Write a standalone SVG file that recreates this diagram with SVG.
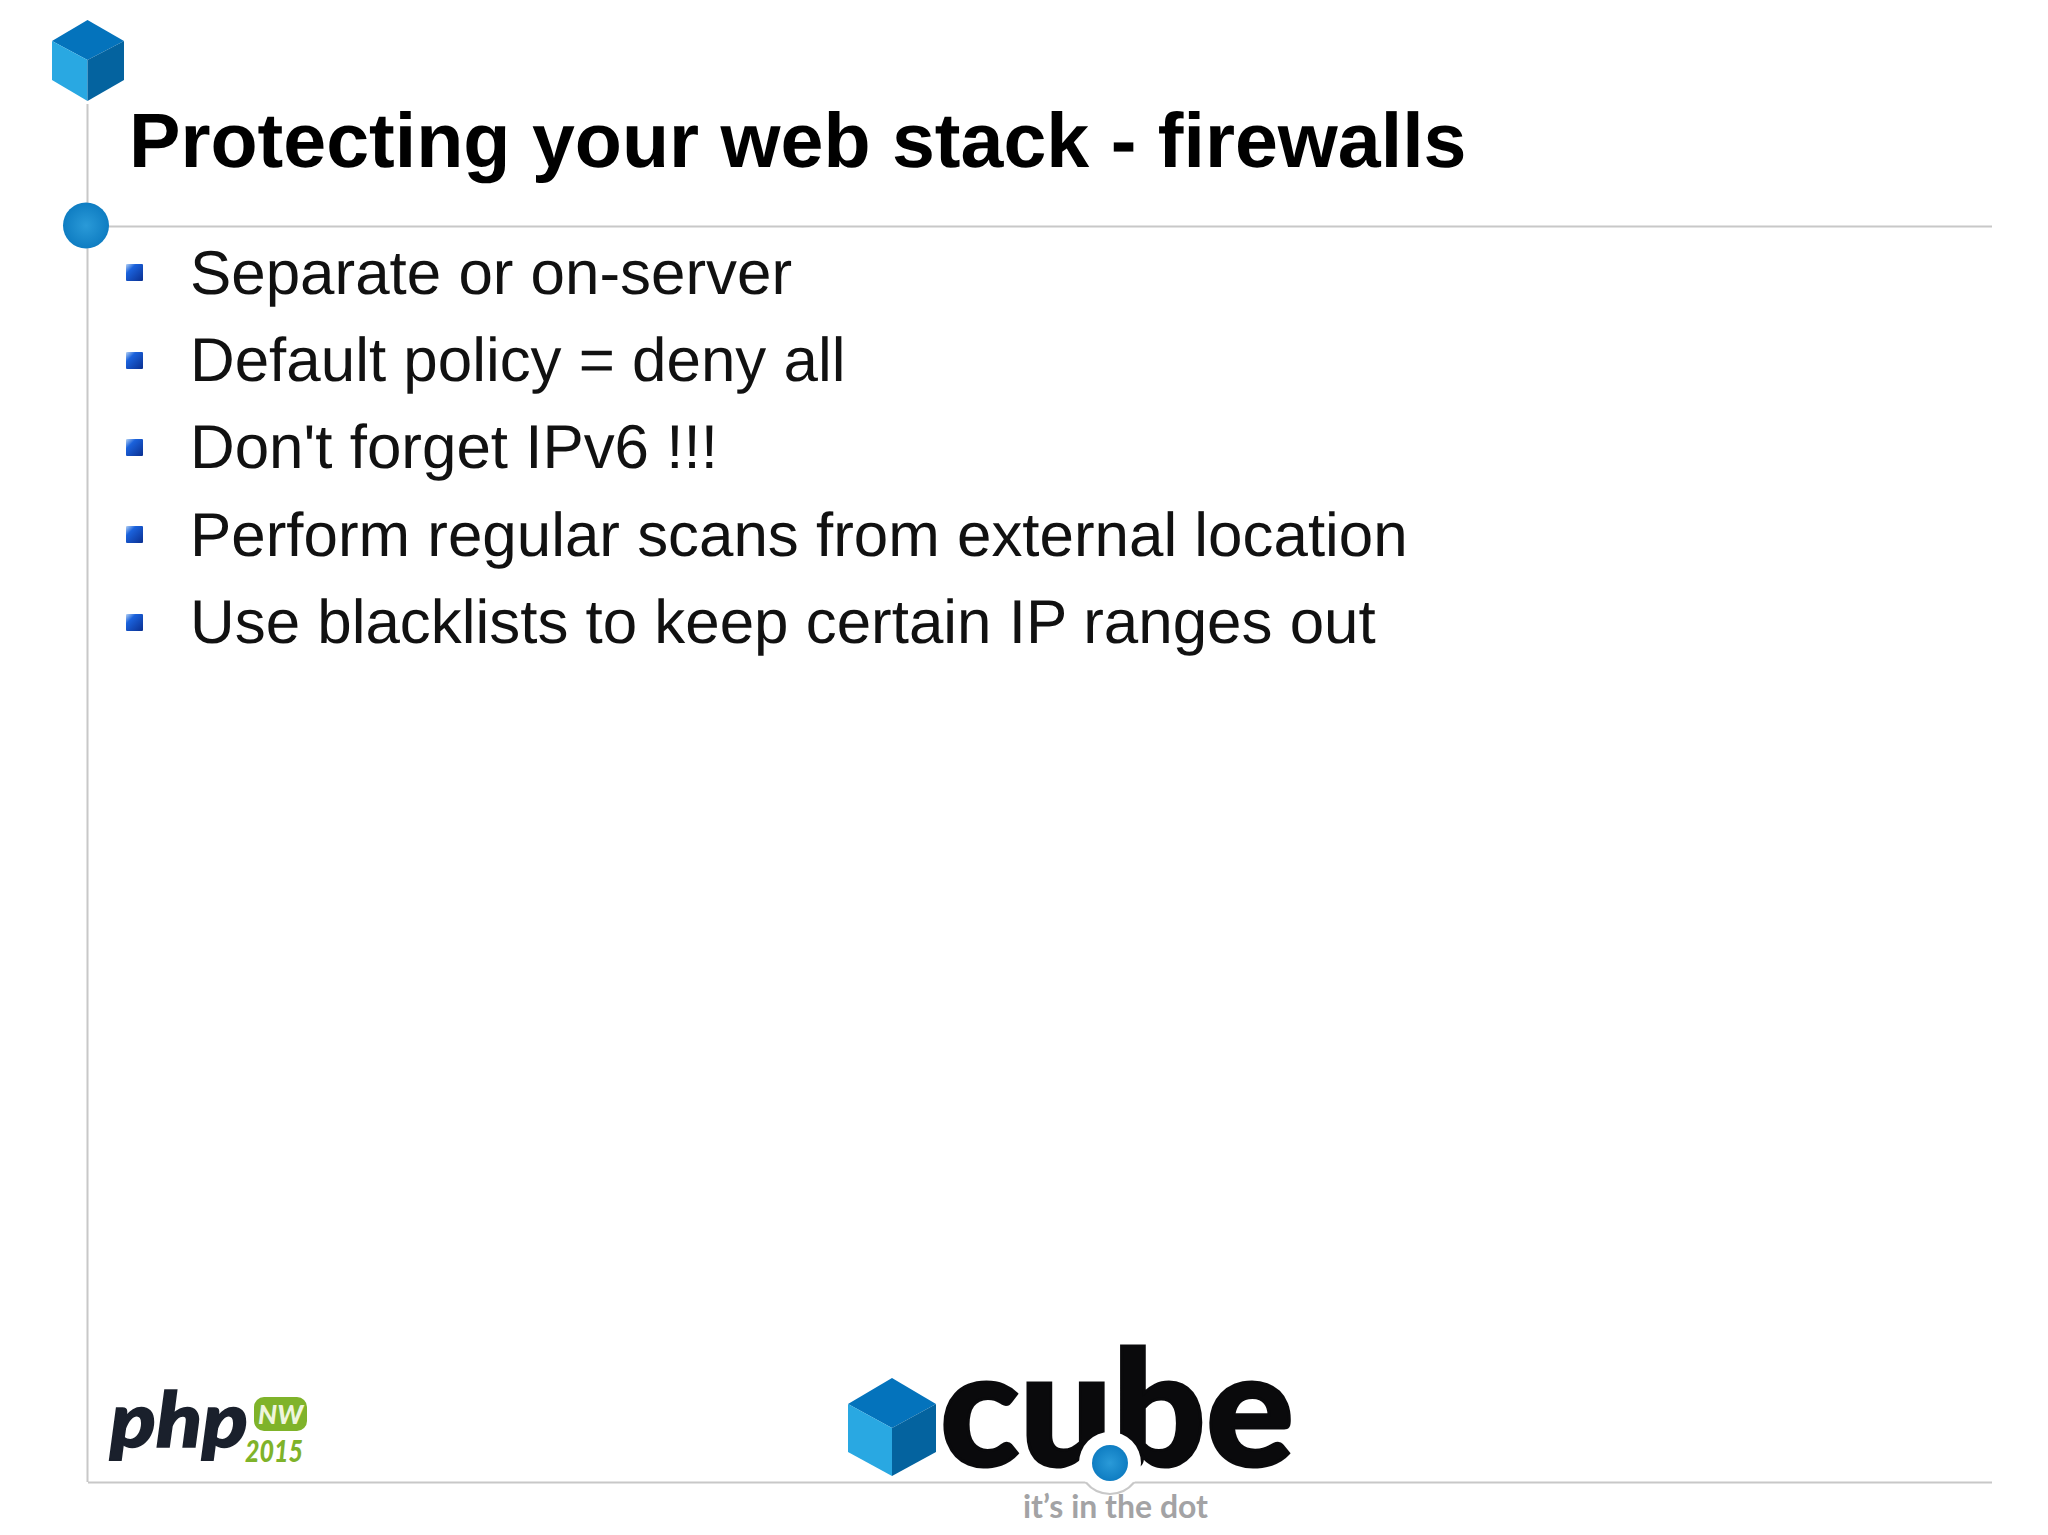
<svg xmlns="http://www.w3.org/2000/svg" width="2048" height="1535" viewBox="0 0 2048 1535">
<style>
.t{font-family:"Liberation Sans",Arial,sans-serif;text-rendering:geometricPrecision}
.b{font-size:61.900px;fill:#111}
.r{stroke:#c8c8c8;stroke-width:2;fill:none}
</style>
<defs>
<radialGradient id="dot"><stop offset="0" stop-color="#2a9ad8"/><stop offset="1" stop-color="#0f7dc2"/></radialGradient>
<linearGradient id="bul" x1="0" y1="0" x2="1" y2="1"><stop offset="0" stop-color="#b8d4f4"/><stop offset=".3" stop-color="#1b62dc"/><stop offset="1" stop-color="#0a2f90"/></linearGradient>
<g id="bu"><rect x="0" y="0" width="17" height="17" rx="1" fill="url(#bul)"/></g>
</defs>
<rect width="2048" height="1535" fill="#fff"/>
<g id="rules">
<path class="r" d="M87.500 104V1482"/>
<path class="r" d="M108 226.500H1992"/>
<path class="r" d="M88 1482.500H1992"/>
</g>
<g id="cube-top">
<polygon points="87.500,20 124,41 87.500,60 52,41" fill="#0473bc"/>
<polygon points="52,41 87.500,60 87.500,101 52,80" fill="#29a8e2"/>
<polygon points="124,41 87.500,60 87.500,101 124,80" fill="#04639f"/>
</g>
<circle id="dot-top" cx="86" cy="225.500" r="23" fill="url(#dot)"/>
<text id="title" class="t" x="129" y="167" font-size="77.150" font-weight="700" fill="#000">Protecting your web stack - firewalls</text>
<g id="bullets">
<use href="#bu" x="126" y="264"/>
<use href="#bu" x="126" y="352"/>
<use href="#bu" x="126" y="439"/>
<use href="#bu" x="126" y="526"/>
<use href="#bu" x="126" y="614"/>
<text class="t b" x="190" y="294">Separate or on-server</text>
<text class="t b" x="190" y="381">Default policy = deny all</text>
<text class="t b" x="190" y="468">Don't forget IPv6 !!!</text>
<text class="t b" x="190" y="556">Perform regular scans from external location</text>
<text class="t b" x="190" y="643">Use blacklists to keep certain IP ranges out</text>
</g>
<g id="logo-php">
<text x="110" y="1447" font-family="Lato,sans-serif" font-weight="900" font-style="italic" font-size="76" fill="#1a202c" stroke="#1a202c" stroke-width="1.500" textLength="138" lengthAdjust="spacingAndGlyphs">php</text>
<rect x="254" y="1397" width="53" height="34" rx="10" fill="#7fb32a"/>
<text x="258" y="1424" font-family="Lato,sans-serif" font-weight="900" font-style="italic" font-size="26" fill="#eef5dd" textLength="45" lengthAdjust="spacingAndGlyphs">NW</text>
<text x="245" y="1462" font-family="Lato,sans-serif" font-weight="900" font-style="italic" font-size="30" fill="#7fb32a" textLength="58" lengthAdjust="spacingAndGlyphs">2015</text>
</g>
<g id="logo-cube">
<polygon points="892,1378 936,1404 892,1428 848,1404" fill="#0473bc"/>
<polygon points="848,1404 892,1428 892,1476 848,1452" fill="#29a8e2"/>
<polygon points="936,1404 892,1428 892,1476 936,1452" fill="#04639f"/>
<text x="940" y="1466" font-family="Lato,sans-serif" font-weight="900" font-size="160" fill="#0a0a0c" stroke="#0a0a0c" stroke-width="3" textLength="354" lengthAdjust="spacingAndGlyphs">cube</text>
<circle cx="1110" cy="1463" r="31" fill="#fff"/>
<path class="r" d="M1086 1482.500A31 31 0 0 0 1134 1482.500"/>
<circle cx="1110" cy="1463" r="18" fill="url(#dot)"/>
<text x="1023" y="1518" font-family="Lato,sans-serif" font-weight="700" font-size="33" fill="#a3a3a5" textLength="185" lengthAdjust="spacingAndGlyphs">it’s in the dot</text>
</g>
</svg>
